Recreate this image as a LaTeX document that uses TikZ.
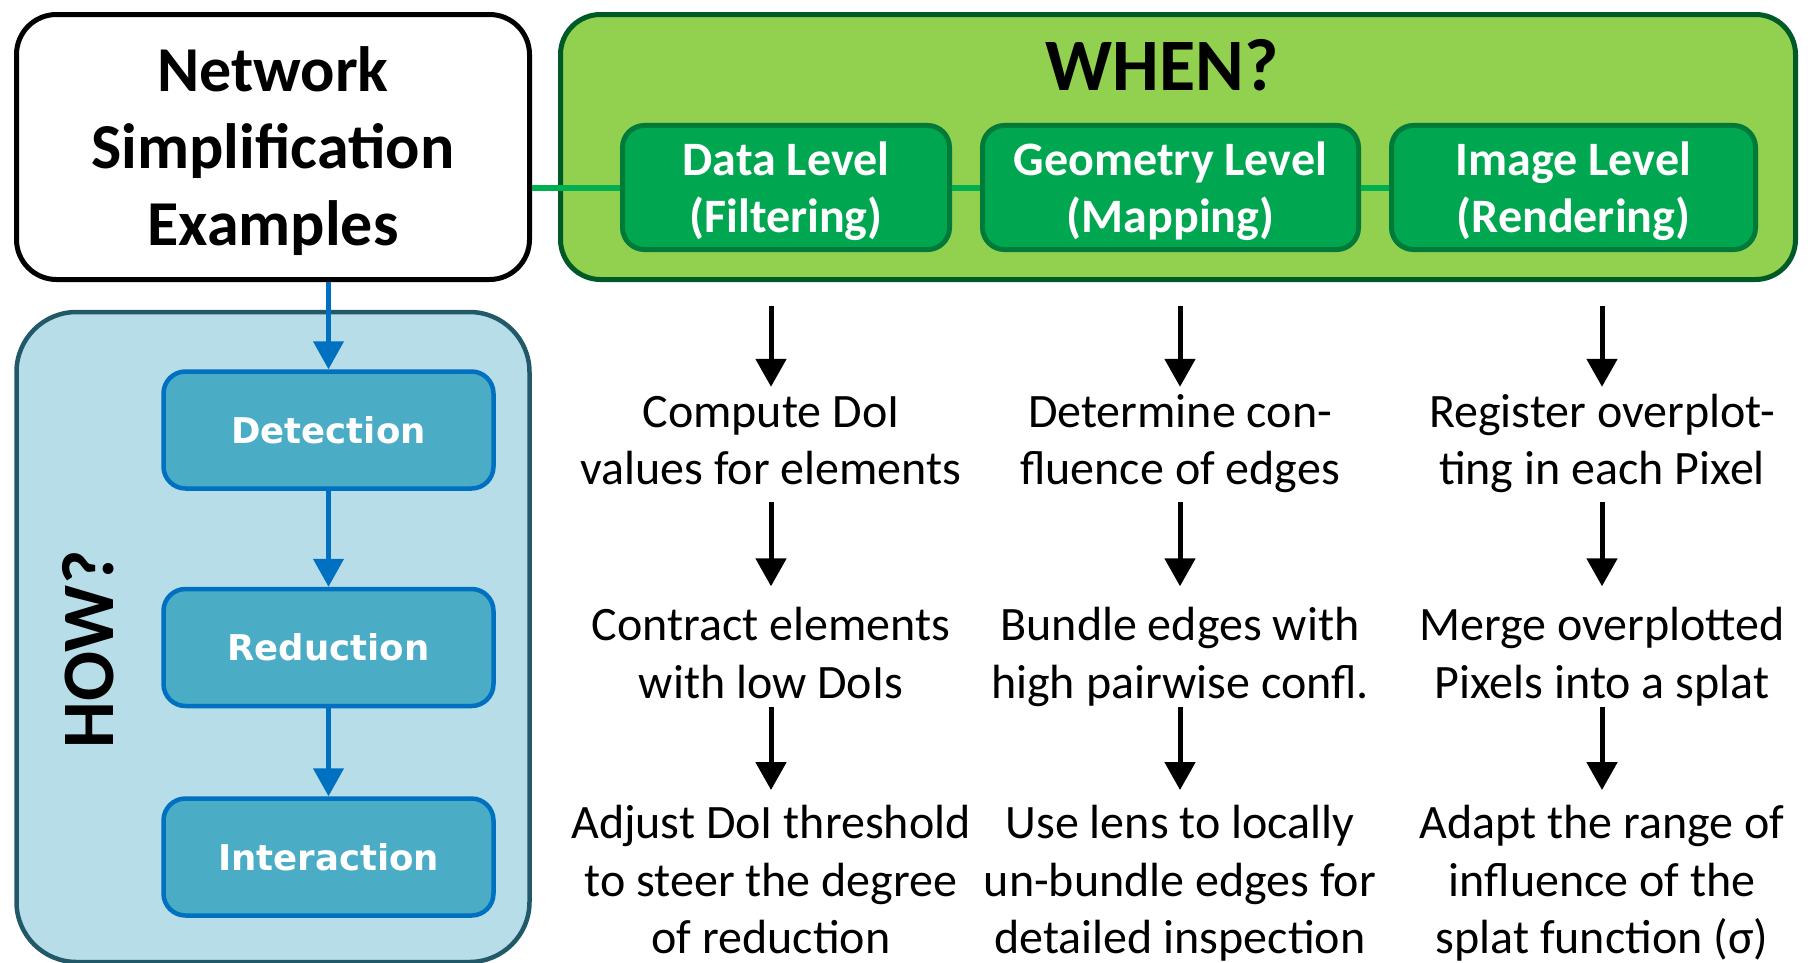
\documentclass[tikz,border=0pt]{standalone}
\usepackage{fontspec}
\setmainfont{Carlito}
\newfontfamily\stagefont{DejaVu Sans}
\usetikzlibrary{arrows.meta}

\definecolor{whenfill}{RGB}{146,208,80}
\definecolor{whenline}{RGB}{0,90,40}
\definecolor{levelfill}{RGB}{0,166,80}
\definecolor{levelline}{RGB}{0,122,56}
\definecolor{linkgreen}{RGB}{0,176,80}
\definecolor{howfill}{RGB}{183,221,232}
\definecolor{howline}{RGB}{33,89,104}
\definecolor{stagefill}{RGB}{75,172,198}
\definecolor{stageline}{RGB}{0,112,192}

\tikzset{
  titlebox/.style={draw=black, line width=5pt, fill=white, rounded corners=40pt,
    minimum width=513pt, minimum height=265pt, inner sep=0pt},
  whenbox/.style={draw=whenline, line width=5pt, fill=whenfill, rounded corners=40pt,
    minimum width=1235pt, minimum height=265pt, inner sep=0pt},
  levelbox/.style={draw=levelline, line width=5pt, fill=levelfill, rounded corners=22pt,
    minimum height=116pt, inner sep=0pt, align=center, text=white,
    font=\bfseries\fontsize{48}{57}\selectfont},
  howbox/.style={draw=howline, line width=4.5pt, fill=howfill, rounded corners=60pt,
    minimum width=513pt, minimum height=650pt, inner sep=0pt},
  stagebox/.style={draw=stageline, line width=4.5pt, fill=stagefill, rounded corners=22pt,
    minimum width=330pt, minimum height=117pt, inner sep=0pt, text=white,
    font=\stagefont\bfseries\fontsize{35.5}{42}\selectfont},
  headline/.style={font=\bfseries\fontsize{74}{88}\selectfont, inner sep=0pt},
  steptext/.style={font=\fontsize{48}{57.5}\selectfont, align=center, inner sep=0pt},
  link/.style={draw=linkgreen, line width=6pt},
  bluearrow/.style={draw=stageline, line width=4.5pt, -{Triangle[width=30pt,length=28pt]}},
  blackarrow/.style={draw=black, line width=5pt, -{Triangle[width=30pt,length=28pt]}},
}

\begin{document}
\begin{tikzpicture}[x=1pt,y=-1pt]
\useasboundingbox (0,0) rectangle (1808,962);

% frames
\node[titlebox] (net) at (273,147) {};
\node[font=\bfseries\fontsize{64}{77}\selectfont, align=center, inner sep=0pt] (nettext) at (273,153)
  {\strut Network\\Simplification\\Examples\strut};
\node[whenbox] (when) at (1178,147) {};
\node[headline, anchor=base] (whentitle) at (1162,90) {WHEN?};
\node[howbox] (how) at (273,637) {};
\node[headline, rotate=90] (howtitle) at (88,649) {HOW?};

% level boxes
\node[levelbox, minimum width=327pt] (data) at (786,187.5) {\rule{0pt}{50pt}Data Level\\(Filtering)\strut};
\node[levelbox, minimum width=376pt] (geom) at (1170.5,187.5) {\rule{0pt}{50pt}Geometry Level\\(Mapping)\strut};
\node[levelbox, minimum width=364pt] (img) at (1573.5,187.5) {\rule{0pt}{50pt}Image Level\\(Rendering)\strut};

% stage boxes
\node[stagebox] (det) at (328.5,430) {Detection};
\node[stagebox] (red) at (328.5,647.5) {Reduction};
\node[stagebox] (inter) at (328.5,857) {Interaction};

% step texts, data level
\node[steptext] (d1) at (771,444.5) {\strut Compute DoI\\values for elements\strut};
\node[steptext] (d2) at (771,658) {\strut Contract elements\\with low DoIs\strut};
\node[steptext] (d3) at (771,884.5) {\strut Adjust DoI threshold\\to steer the degree\\of reduction\strut};
% step texts, geometry level
\node[steptext] (g1) at (1180,444.5) {\strut Determine con-\\fluence of edges\strut};
\node[steptext] (g2) at (1180,658) {\strut Bundle edges with\\high pairwise confl.\strut};
\node[steptext] (g3) at (1180,884.5) {\strut Use lens to locally\\un-bundle edges for\\detailed inspection\strut};
% step texts, image level
\node[steptext] (i1) at (1602,444.5) {\strut Register overplot-\\ting in each Pixel\strut};
\node[steptext] (i2) at (1602,658) {\strut Merge overplotted\\Pixels into a splat\strut};
\node[steptext] (i3) at (1602,884.5) {\strut Adapt the range of\\influence of the\\splat function (σ)\strut};

% green links
\draw[link] (net.east |- data.west) -- (data.west);
\draw[link] (data.east) -- (geom.west);
\draw[link] (geom.east) -- (img.west);

% blue flow
\draw[bluearrow] (net.south -| det.north) -- (det.north);
\draw[bluearrow] (det.south) -- (red.north);
\draw[bluearrow] (red.south) -- (inter.north);

% black flow
\foreach \c in {d,g,i}{
  \draw[blackarrow, shorten <=24pt] (when.south -| \c1.north) -- (\c1.north);
  \draw[blackarrow, shorten >=14pt] (\c1.south) -- (\c2.north);
  \draw[blackarrow, shorten >=8pt] ([yshift=9pt]\c2.south) -- (\c3.north);
}
\end{tikzpicture}
\end{document}
